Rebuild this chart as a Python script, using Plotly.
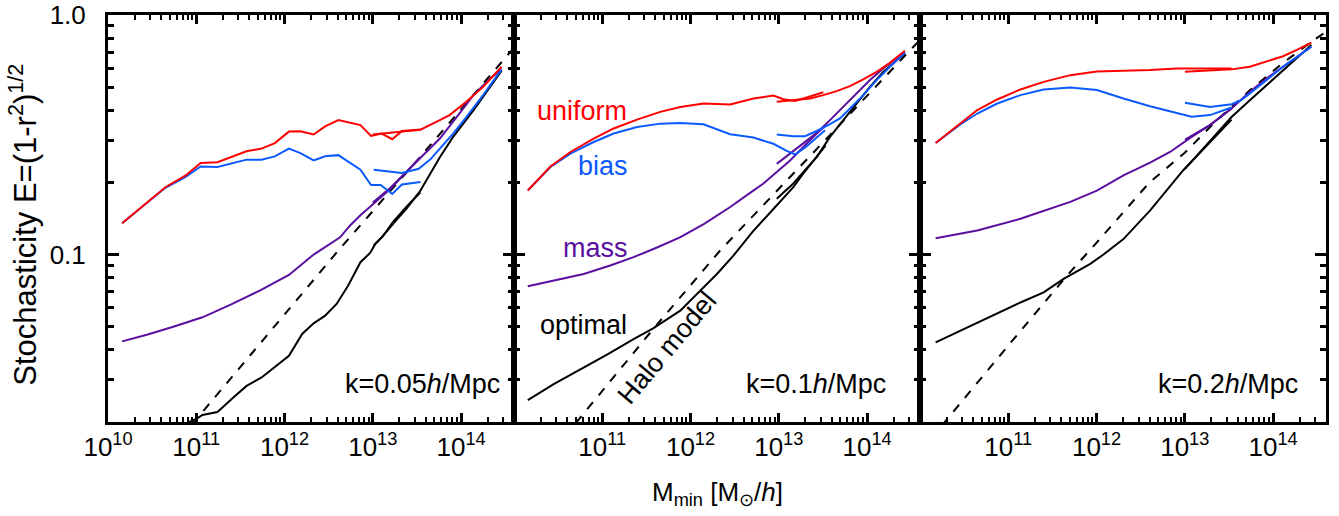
import numpy as np
import plotly.graph_objects as go
from plotly.subplots import make_subplots

# ---------------- data (log10 M_min, stochasticity E) ----------------
# Panel 1: k = 0.05 h/Mpc
p1_uniform_A_logM = [10.16, 10.65, 10.88, 11.05, 11.24, 11.42, 11.57, 11.74, 11.89, 12.05, 12.18, 12.33, 12.46, 12.61, 12.86, 12.98, 13.10, 13.22, 13.33, 13.54]
p1_uniform_A_E = [0.135, 0.191, 0.214, 0.241, 0.243, 0.257, 0.270, 0.277, 0.292, 0.326, 0.327, 0.317, 0.343, 0.364, 0.347, 0.313, 0.320, 0.303, 0.328, 0.333]
p1_uniform_B_logM = [13.00, 13.10, 13.33, 13.54, 13.72, 13.87, 14.06, 14.25, 14.46]
p1_uniform_B_E = [0.317, 0.320, 0.325, 0.332, 0.358, 0.382, 0.434, 0.501, 0.608]
p1_bias_A_logM = [10.16, 10.65, 10.88, 11.05, 11.24, 11.42, 11.57, 11.74, 11.89, 12.05, 12.18, 12.33, 12.46, 12.61, 12.86, 12.98, 13.09, 13.22, 13.33, 13.54]
p1_bias_A_E = [0.135, 0.190, 0.211, 0.233, 0.232, 0.241, 0.249, 0.249, 0.257, 0.277, 0.265, 0.247, 0.257, 0.260, 0.226, 0.195, 0.195, 0.179, 0.196, 0.201]
p1_bias_B_logM = [13.01, 13.20, 13.33, 13.52, 13.65, 13.76, 13.91, 14.06, 14.25, 14.46]
p1_bias_B_E = [0.226, 0.221, 0.219, 0.228, 0.249, 0.277, 0.320, 0.375, 0.463, 0.593]
p1_mass_A_logM = [10.16, 10.44, 10.74, 11.07, 11.39, 11.73, 12.05, 12.20, 12.33, 12.63, 12.74, 12.86, 13.01, 13.20, 13.38, 13.54]
p1_mass_A_E = [0.0434, 0.0463, 0.0500, 0.0547, 0.0618, 0.0711, 0.0822, 0.0914, 0.100, 0.118, 0.132, 0.146, 0.163, 0.188, 0.221, 0.255]
p1_mass_B_logM = [13.00, 13.20, 13.38, 13.57, 13.76, 13.95, 14.14, 14.33, 14.46]
p1_mass_B_E = [0.165, 0.190, 0.221, 0.260, 0.305, 0.375, 0.463, 0.543, 0.593]
p1_optimal_A_logM = [10.85, 11.01, 11.07, 11.24, 11.42, 11.57, 11.74, 12.05, 12.20, 12.33, 12.46, 12.59, 12.72, 12.86, 12.97, 13.03, 13.12, 13.23, 13.38, 13.54]
p1_optimal_A_E = [0.0195, 0.0207, 0.0214, 0.0220, 0.0253, 0.0283, 0.0307, 0.0378, 0.0466, 0.0516, 0.0556, 0.0622, 0.0741, 0.0929, 0.1016, 0.111, 0.120, 0.137, 0.158, 0.182]
p1_optimal_B_logM = [13.01, 13.10, 13.25, 13.38, 13.54, 13.61, 13.76, 13.91, 14.14, 14.46]
p1_optimal_B_E = [0.109, 0.118, 0.137, 0.155, 0.185, 0.204, 0.255, 0.310, 0.400, 0.585]
p1_halo_logM = [10.95, 12.61, 13.55, 14.50, 14.65]
p1_halo_E = [0.0195, 0.104, 0.259, 0.661, 0.767]

# Panel 2: k = 0.1 h/Mpc
p2_uniform_A_logM = [10.156, 10.413, 10.639, 10.903, 11.129, 11.394, 11.657, 11.884, 12.147, 12.449, 12.713, 12.939, 13.052, 13.184, 13.335, 13.505]
p2_uniform_A_E = [0.185, 0.233, 0.268, 0.305, 0.336, 0.366, 0.394, 0.413, 0.427, 0.423, 0.448, 0.461, 0.445, 0.438, 0.455, 0.476]
p2_uniform_B_logM = [12.977, 13.165, 13.354, 13.505, 13.656, 13.807, 13.957, 14.109, 14.259, 14.429]
p2_uniform_B_E = [0.434, 0.441, 0.448, 0.463, 0.481, 0.505, 0.538, 0.579, 0.631, 0.709]
p2_bias_A_logM = [10.156, 10.413, 10.639, 10.903, 11.129, 11.394, 11.657, 11.884, 12.147, 12.449, 12.713, 12.939, 13.09, 13.184, 13.297, 13.43, 13.524]
p2_bias_A_E = [0.185, 0.232, 0.264, 0.295, 0.320, 0.341, 0.352, 0.354, 0.350, 0.318, 0.308, 0.290, 0.271, 0.262, 0.279, 0.308, 0.330]
p2_bias_B_logM = [12.977, 13.165, 13.297, 13.43, 13.58, 13.693, 13.807, 13.957, 14.109, 14.259, 14.429]
p2_bias_B_E = [0.317, 0.312, 0.312, 0.328, 0.350, 0.370, 0.407, 0.463, 0.535, 0.608, 0.695]
p2_mass_A_logM = [10.156, 10.45, 10.79, 11.09, 11.355, 11.62, 11.88, 12.15, 12.45, 12.675, 12.826, 12.977, 13.128, 13.278, 13.43, 13.53]
p2_mass_A_E = [0.0737, 0.0778, 0.083, 0.090, 0.0975, 0.107, 0.118, 0.134, 0.158, 0.181, 0.198, 0.221, 0.247, 0.281, 0.320, 0.345]
p2_mass_B_logM = [12.977, 13.128, 13.278, 13.43, 13.58, 13.731, 13.882, 14.033, 14.183, 14.429]
p2_mass_B_E = [0.239, 0.264, 0.290, 0.322, 0.364, 0.413, 0.470, 0.535, 0.598, 0.702]
p2_optimal_A_logM = [10.156, 10.45, 10.752, 11.054, 11.355, 11.581, 11.884, 12.11, 12.299, 12.486, 12.70, 12.939, 13.165, 13.278, 13.43, 13.53]
p2_optimal_A_E = [0.0247, 0.0288, 0.0332, 0.0382, 0.0444, 0.0493, 0.0583, 0.0707, 0.083, 0.099, 0.124, 0.155, 0.191, 0.218, 0.255, 0.285]
p2_optimal_B_logM = [12.977, 13.165, 13.297, 13.43, 13.58, 13.731, 13.882, 14.033, 14.183, 14.429]
p2_optimal_B_E = [0.171, 0.198, 0.225, 0.255, 0.310, 0.364, 0.427, 0.501, 0.579, 0.691]
p2_halo_logM = [10.70, 10.79, 11.58, 12.336, 12.808, 13.60, 14.542, 14.65]
p2_halo_E = [0.0198, 0.0217, 0.049, 0.104, 0.158, 0.321, 0.748, 0.82]

# Panel 3: k = 0.2 h/Mpc
p3_uniform_A_logM = [10.177, 10.46, 10.649, 10.875, 11.138, 11.401, 11.703, 12.004, 12.305, 12.607, 12.908, 13.247, 13.53]
p3_uniform_A_E = [0.292, 0.354, 0.401, 0.444, 0.489, 0.526, 0.561, 0.581, 0.585, 0.589, 0.598, 0.598, 0.598]
p3_uniform_B_logM = [13.002, 13.247, 13.53, 13.737, 13.925, 14.113, 14.264, 14.434]
p3_uniform_B_E = [0.579, 0.585, 0.593, 0.608, 0.638, 0.673, 0.714, 0.766]
p3_bias_A_logM = [10.177, 10.46, 10.649, 10.875, 11.138, 11.401, 11.703, 12.004, 12.305, 12.607, 12.908, 13.078, 13.285, 13.53]
p3_bias_A_E = [0.292, 0.350, 0.388, 0.427, 0.463, 0.489, 0.498, 0.486, 0.448, 0.416, 0.390, 0.376, 0.382, 0.411]
p3_bias_B_logM = [13.002, 13.285, 13.53, 13.64, 13.737, 13.925, 14.113, 14.264, 14.434]
p3_bias_B_E = [0.430, 0.413, 0.424, 0.441, 0.470, 0.535, 0.608, 0.665, 0.737]
p3_mass_A_logM = [10.177, 10.649, 11.138, 11.703, 12.004, 12.305, 12.607, 12.833, 13.078, 13.285, 13.53]
p3_mass_A_E = [0.117, 0.126, 0.141, 0.166, 0.185, 0.214, 0.242, 0.268, 0.310, 0.347, 0.407]
p3_mass_B_logM = [13.002, 13.285, 13.53, 13.737, 13.925, 14.113, 14.434]
p3_mass_B_E = [0.302, 0.347, 0.407, 0.478, 0.543, 0.608, 0.737]
p3_optimal_A_logM = [10.177, 10.497, 10.875, 11.138, 11.401, 11.627, 11.929, 12.079, 12.305, 12.608, 12.983, 13.36, 13.53]
p3_optimal_A_E = [0.0430, 0.0489, 0.0565, 0.0631, 0.0695, 0.0791, 0.0914, 0.100, 0.116, 0.153, 0.225, 0.315, 0.366]
p3_optimal_B_logM = [13.002, 13.36, 13.53, 13.737, 14.113, 14.434]
p3_optimal_B_E = [0.228, 0.318, 0.375, 0.441, 0.589, 0.749]
p3_halo_logM = [10.25, 10.29, 11.0, 11.666, 12.0, 12.6, 13.0, 13.36, 13.737, 14.113, 14.434, 14.6]
p3_halo_E = [0.0193, 0.0202, 0.0417, 0.0817, 0.112, 0.200, 0.266, 0.363, 0.485, 0.631, 0.773, 0.851]

panel_labels = ["k=0.05<i>h</i>/Mpc", "k=0.1<i>h</i>/Mpc", "k=0.2<i>h</i>/Mpc"]
x_tick_exps = [10, 11, 12, 13, 14]
y_tick_vals = [0.1, 1.0]
y_tick_text = ["0.1", "1.0"]

# ---------------- styling ----------------
FONT = "Liberation Sans, Arial, Helvetica, sans-serif"
C_UNI = "#ff0000"
C_BIAS = "#0a5aff"
C_MASS = "#5a0fa0"
C_OPT = "#000000"
LW = 2

panels = [
    dict(u=[(p1_uniform_A_logM, p1_uniform_A_E), (p1_uniform_B_logM, p1_uniform_B_E)],
         b=[(p1_bias_A_logM, p1_bias_A_E), (p1_bias_B_logM, p1_bias_B_E)],
         m=[(p1_mass_A_logM, p1_mass_A_E), (p1_mass_B_logM, p1_mass_B_E)],
         o=[(p1_optimal_A_logM, p1_optimal_A_E), (p1_optimal_B_logM, p1_optimal_B_E)],
         h=(p1_halo_logM, p1_halo_E)),
    dict(u=[(p2_uniform_A_logM, p2_uniform_A_E), (p2_uniform_B_logM, p2_uniform_B_E)],
         b=[(p2_bias_A_logM, p2_bias_A_E), (p2_bias_B_logM, p2_bias_B_E)],
         m=[(p2_mass_A_logM, p2_mass_A_E), (p2_mass_B_logM, p2_mass_B_E)],
         o=[(p2_optimal_A_logM, p2_optimal_A_E), (p2_optimal_B_logM, p2_optimal_B_E)],
         h=(p2_halo_logM, p2_halo_E)),
    dict(u=[(p3_uniform_A_logM, p3_uniform_A_E), (p3_uniform_B_logM, p3_uniform_B_E)],
         b=[(p3_bias_A_logM, p3_bias_A_E), (p3_bias_B_logM, p3_bias_B_E)],
         m=[(p3_mass_A_logM, p3_mass_A_E), (p3_mass_B_logM, p3_mass_B_E)],
         o=[(p3_optimal_A_logM, p3_optimal_A_E), (p3_optimal_B_logM, p3_optimal_B_E)],
         h=(p3_halo_logM, p3_halo_E)),
]

fig = make_subplots(rows=1, cols=3, shared_yaxes=True, horizontal_spacing=0)

for i, p in enumerate(panels):
    col = i + 1
    hx, hy = p["h"]
    fig.add_trace(go.Scatter(x=np.power(10.0, hx), y=hy, mode="lines",
                             line=dict(color="black", width=LW, dash="dash"),
                             showlegend=False, hoverinfo="skip"), row=1, col=col)
    for key, color in (("o", C_OPT), ("m", C_MASS), ("b", C_BIAS), ("u", C_UNI)):
        for lx, ly in p[key]:
            fig.add_trace(go.Scatter(x=np.power(10.0, lx), y=ly, mode="lines",
                                     line=dict(color=color, width=LW),
                                     showlegend=False, hoverinfo="skip"), row=1, col=col)

minor_x = [k * 10.0 ** n for n in range(10, 15) for k in range(2, 10) if np.log10(k * 10.0 ** n) < 14.6]
minor_y = [k * 0.01 for k in range(2, 10)] + [k * 0.1 for k in range(2, 10)]

for i in range(3):
    exps = x_tick_exps if i == 0 else x_tick_exps[1:]
    fig.update_xaxes(
        type="log", range=[10, 14.6], automargin=False,
        tickvals=[10.0 ** e for e in exps],
        ticktext=["10<sup>%d</sup>" % e for e in exps],
        ticks="inside", ticklen=9, tickwidth=2.5, tickcolor="black",
        minor=dict(tickvals=minor_x, ticks="inside", ticklen=5, tickwidth=2, tickcolor="black", showgrid=False),
        showline=True, linewidth=3, linecolor="black", mirror="allticks",
        showgrid=False, zeroline=False,
        tickfont=dict(family=FONT, size=26, color="black"),
        row=1, col=i + 1)
    fig.update_yaxes(
        type="log", range=[np.log10(0.02), 0], automargin=False,
        tickvals=y_tick_vals, ticktext=y_tick_text,
        ticks="inside", ticklen=11, tickwidth=3, tickcolor="black",
        minor=dict(tickvals=minor_y, ticks="inside", ticklen=6, tickwidth=3, tickcolor="black", showgrid=False),
        showline=True, linewidth=3, linecolor="black", mirror="allticks",
        showgrid=False, zeroline=False, ticklabelstandoff=14,
        tickfont=dict(family=FONT, size=26, color="black"),
        row=1, col=i + 1)


def ann(text, x, y, size=27, color="black", angle=0, xanchor="center"):
    return dict(text=text, x=x, y=y, xref="paper", yref="paper", xanchor=xanchor, yanchor="middle",
                textangle=angle, showarrow=False, font=dict(family=FONT, size=size, color=color))


annotations = [
    ann("Stochasticity E=(1-r<sup>2</sup>)<sup>1/2</sup>", -0.0705, 0.485, size=31, angle=-90),
    ann("M<sub>min</sub> [M<sub>⊙</sub>/<i>h</i>]", 0.5, -0.175, size=26),
    ann("uniform", 0.389, 0.764, color=C_UNI),
    ann("bias", 0.406, 0.628, color=C_BIAS),
    ann("mass", 0.400, 0.427, color=C_MASS),
    ann("optimal", 0.390, 0.238),
    ann("Halo model", 0.459, 0.181, angle=-50),
]
label_x = [0.3235, 0.640, 0.9787]
for lx, lab in zip(label_x, panel_labels):
    annotations.append(ann(lab, lx, 0.093, xanchor="right"))

fig.update_layout(
    width=1339, height=516,
    margin=dict(l=108, r=13, t=15, b=94, autoexpand=False),
    paper_bgcolor="white", plot_bgcolor="white",
    annotations=annotations,
    showlegend=False,
)

fig.write_html("out.html")
